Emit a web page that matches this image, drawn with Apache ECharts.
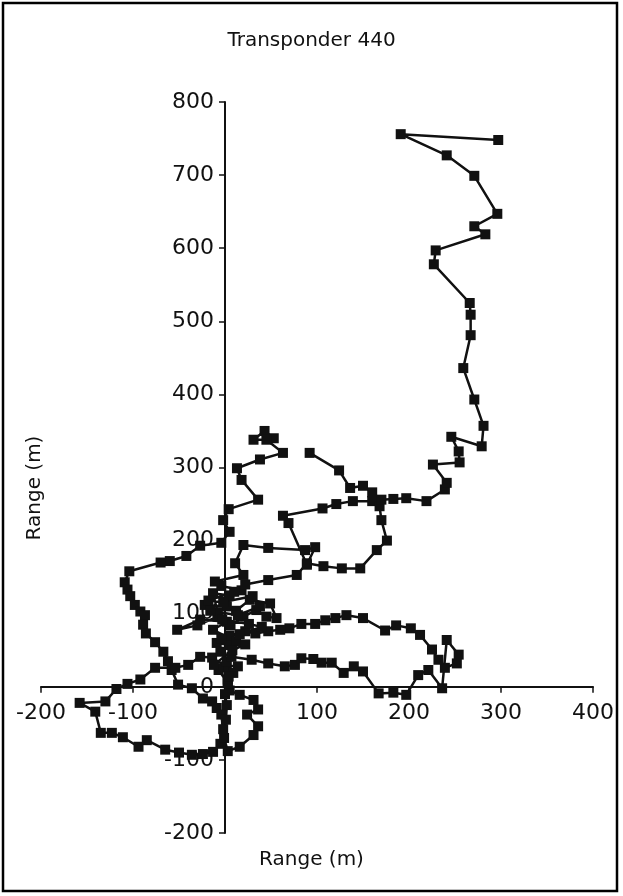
<!DOCTYPE html>
<html>
<head>
<meta charset="utf-8">
<script src="https://cdn.jsdelivr.net/npm/echarts@6/dist/echarts.min.js"></script>
<style>
  html, body { margin: 0; padding: 0; background: #fff; }
  #chart { width: 623px; height: 896px; }
</style>
</head>
<body>
<div id="chart"></div>
<script>
// track of transponder 440, [x (m), y (m)] in order
const trackNorthWest = [
  [53, 340], [43, 350], [31, 338], [45, 338], [63, 320], [38, 311], [13, 299], [18, 283],
  [36, 256], [4, 243], [-2, 228], [5, 212], [-4, 197], [-27, 193], [-42, 179], [-60, 172],
  [-70, 170], [-104, 158], [-109, 143], [-106, 133], [-103, 124], [-98, 112], [-92, 103],
  [-87, 98], [-89, 85], [-86, 73], [-76, 61], [-67, 48], [-62, 35], [-58, 23], [-51, 3],
  [-36, -2], [-24, -16], [-14, -20], [-9, -29], [-4, -38], [-2, -58], [-5, -78]
];
const trackSouthWest = [
  [-13, -89], [-24, -92], [-36, -93], [-50, -90], [-65, -86], [-85, -73], [-94, -82],
  [-111, -69], [-123, -63], [-135, -63], [-141, -34], [-158, -22], [-130, -20], [-118, -3],
  [-106, 4], [-92, 10], [-76, 26], [-54, 26], [-40, 30], [-27, 41], [-14, 40], [0, 28],
  [3, 10], [5, -5], [16, -11], [31, -18], [36, -31], [24, -38], [36, -54], [31, -66],
  [16, -82], [3, -88], [-1, -70], [1, -45], [2, -25], [0, -10], [3, 5]
];
const trackSouthEast = [
  [-7, 23], [9, 19], [2, 35], [7, 41], [29, 37], [47, 32], [65, 28], [76, 30], [83, 39],
  [96, 38], [105, 33], [116, 33], [129, 19], [140, 28], [150, 21], [167, -9], [183, -8],
  [197, -11], [210, 16], [221, 23], [236, -2], [241, 64], [254, 44], [252, 32], [239, 26],
  [232, 37], [225, 51], [212, 71], [202, 80], [186, 84], [174, 77], [150, 94], [132, 98],
  [120, 94], [109, 91], [98, 86], [83, 86], [70, 80], [60, 78], [47, 76], [33, 73], [22, 76]
];
const trackCentre = [
  [5, 70], [-9, 60], [5, 57], [-5, 48], [12, 62], [-13, 78], [2, 89], [-27, 92], [-52, 78],
  [-30, 84], [-8, 96], [6, 84], [20, 96], [34, 105], [45, 96], [56, 94], [49, 114],
  [27, 119], [12, 104], [2, 110], [-22, 112], [-8, 102], [-13, 128], [5, 125], [18, 132],
  [-4, 138], [-11, 144], [20, 153], [11, 169], [20, 194], [47, 190], [87, 187], [98, 191],
  [89, 167], [69, 224], [63, 234], [106, 244], [121, 250], [139, 254], [160, 254],
  [168, 247], [170, 228], [176, 200], [165, 187], [147, 162], [127, 162], [107, 165],
  [89, 169], [78, 153], [47, 146], [22, 140], [10, 130], [-18, 118], [-2, 116], [30, 124],
  [38, 110], [14, 98], [-16, 104], [-3, 92], [26, 86], [40, 82], [16, 72], [-4, 66],
  [22, 58], [8, 50], [-12, 30], [14, 28], [4, 14]
];
const trackNorthEast = [
  [92, 320], [124, 296], [136, 272], [150, 275], [160, 266], [170, 256], [183, 257],
  [197, 258], [219, 254], [239, 270], [241, 279], [226, 304], [255, 307], [254, 322],
  [246, 342], [279, 329], [281, 357], [271, 393], [259, 436], [267, 481], [267, 509],
  [266, 525], [227, 578], [229, 597], [283, 619], [271, 630], [296, 647], [271, 699],
  [241, 727], [191, 756], [297, 748]
];

const xTicks = [-200, -100, 0, 100, 200, 300, 400];
const yTicks = [-200, -100, 0, 100, 200, 300, 400, 500, 600, 700, 800];

const font = '"DejaVu Sans", "Liberation Sans", sans-serif';
const ink = '#111';

// plot box, axes cross at the origin inside it
const gridLeft = 41, gridTop = 102, gridW = 552, gridH = 731;
const xMin = xTicks[0], xMax = xTicks[xTicks.length - 1];
const yMin = yTicks[0], yMax = yTicks[yTicks.length - 1];
const originX = gridLeft + (0 - xMin) / (xMax - xMin) * gridW;
const originY = gridTop + (yMax - 0) / (yMax - yMin) * gridH;

const chart = echarts.init(document.getElementById('chart'));

const trackStyle = {
  type: 'line',
  symbol: 'rect',
  symbolSize: 10,
  showAllSymbol: true,
  lineStyle: { color: ink, width: 2.5 },
  itemStyle: { color: ink },
  z: 3,
  silent: true
};

chart.setOption({
  animation: false,
  backgroundColor: '#fff',
  title: {
    text: 'Transponder 440',
    left: 'center',
    top: 26,
    textStyle: { fontFamily: font, fontSize: 20, fontWeight: 'normal', color: ink }
  },
  grid: {
    left: gridLeft, top: gridTop, width: gridW, height: gridH,
    containLabel: false, outerBoundsMode: 'none'
  },
  xAxis: {
    type: 'value',
    min: xMin,
    max: xMax,
    interval: 100,
    position: 'bottom',
    offset: -(gridTop + gridH - originY),
    axisLine: { onZero: false, lineStyle: { color: ink, width: 2 } },
    axisTick: { show: true, length: 6, lineStyle: { color: ink, width: 1.5 } },
    axisLabel: {
      margin: 15,
      fontFamily: font,
      fontSize: 22,
      color: ink,
      formatter: v => (v === 0 ? '' : String(v))
    },
    splitLine: { show: false }
  },
  yAxis: {
    type: 'value',
    min: yMin,
    max: yMax,
    interval: 100,
    position: 'left',
    offset: -(originX - gridLeft),
    axisLine: { onZero: false, lineStyle: { color: ink, width: 2 } },
    axisTick: { show: true, length: 6, lineStyle: { color: ink, width: 1.5 } },
    axisLabel: { margin: 11, fontFamily: font, fontSize: 22, color: ink },
    splitLine: { show: false }
  },
  graphic: [
    {
      type: 'rect',
      shape: { x: 3, y: 3, width: 614, height: 888 },
      style: { fill: 'none', stroke: '#000', lineWidth: 2.5 },
      silent: true
    },
    {
      type: 'text',
      left: 'center',
      top: 850,
      style: { text: 'Range (m)', font: '20px ' + font, fill: ink }
    },
    {
      type: 'text',
      x: 35,
      y: 488,
      rotation: Math.PI / 2,
      style: {
        text: 'Range (m)',
        font: '20px ' + font,
        fill: ink,
        textAlign: 'center',
        textVerticalAlign: 'middle'
      }
    }
  ],
  series: [
    Object.assign({ data: trackNorthWest.concat(trackSouthWest) }, trackStyle),
    Object.assign({ data: [trackSouthWest[trackSouthWest.length - 1]].concat(trackSouthEast, trackCentre) }, trackStyle),
    Object.assign({ data: trackNorthEast }, trackStyle)
  ]
});
</script>
</body>
</html>
